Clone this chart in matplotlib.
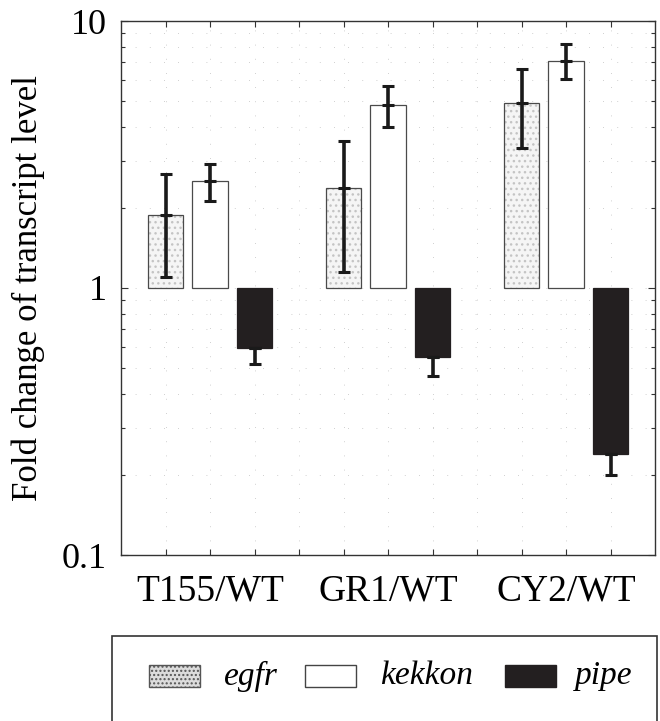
import matplotlib
matplotlib.use("Agg")
import matplotlib.pyplot as plt
import numpy as np
from matplotlib.patches import Rectangle
from matplotlib.ticker import LogLocator, NullFormatter, FixedLocator

plt.rcParams["font.family"] = ["Liberation Serif", "DejaVu Serif"]

groups = ["T155/WT", "GR1/WT", "CY2/WT"]
genes = ["egfr", "kekkon", "pipe"]

# fold change (bar ends) per gene, one value per group
egfr = [1.88, 2.37, 4.93]
kekkon = [2.52, 4.85, 7.08]
pipe = [0.596, 0.552, 0.239]

# error bar ends (low, high)
egfr_lo = [1.10, 1.15, 3.34]
egfr_hi = [2.67, 3.55, 6.61]
kekkon_lo = [2.12, 4.01, 6.06]
kekkon_hi = [2.91, 5.71, 8.20]
pipe_lo = [0.52, 0.468, 0.20]
pipe_hi = [0.596, 0.552, 0.239]

EDGE = "#4a4a4a"
DARK = "#231f20"

fig = plt.figure(figsize=(6.6, 7.21), dpi=100)
ax = fig.add_axes([121 / 660, 1 - 555 / 721, 534 / 660, 534 / 721])

width = 0.8
group_x = np.array([2, 6, 10])
series = [
    (egfr, egfr_lo, egfr_hi, -1),
    (kekkon, kekkon_lo, kekkon_hi, 0),
    (pipe, pipe_lo, pipe_hi, 1),
]

for i, (vals, lo, hi, off) in enumerate(series):
    xs = group_x + off
    vals = np.array(vals)
    bottoms = np.minimum(vals, 1.0)
    heights = np.abs(vals - 1.0)
    if i == 0:
        ax.bar(xs, heights, width, bottom=bottoms, facecolor="#f5f5f5",
               hatch="...", edgecolor="#c4c4c4", linewidth=0, zorder=2)
        ax.bar(xs, heights, width, bottom=bottoms, fill=False,
               edgecolor=EDGE, linewidth=0.9, zorder=3)
    elif i == 1:
        ax.bar(xs, heights, width, bottom=bottoms, facecolor="white",
               edgecolor=EDGE, linewidth=0.9, zorder=3)
    else:
        ax.bar(xs, heights, width, bottom=bottoms, facecolor=DARK,
               edgecolor=DARK, linewidth=0.9, zorder=3)
    yerr = [vals - np.array(lo), np.array(hi) - vals]
    ax.errorbar(xs, vals, yerr=yerr, fmt="_", color="#1a1a1a", ms=9, mew=2.2,
                elinewidth=2.6, capsize=4.5, capthick=2.2, zorder=4)

ax.set_yscale("log")
ax.set_ylim(0.1, 10)
ax.set_xlim(0, 12)

ax.xaxis.set_major_locator(FixedLocator(np.arange(1, 12)))
ax.set_xticklabels(["", "T155/WT", "", "", "", "GR1/WT", "", "", "", "CY2/WT", ""])
ax.yaxis.set_major_locator(FixedLocator([0.1, 1, 10]))
ax.set_yticklabels(["0.1", "1", "10"])
ax.yaxis.set_minor_locator(LogLocator(base=10, subs=np.arange(2, 10)))
ax.yaxis.set_minor_formatter(NullFormatter())

ax.tick_params(axis="both", which="both", direction="in", top=True, right=True,
               color="#333333", width=0.8)
ax.tick_params(axis="x", which="major", length=4, labelsize=27, pad=14)
ax.tick_params(axis="y", which="major", length=5, labelsize=26, pad=10)
ax.tick_params(axis="y", which="minor", length=3)

ax.grid(True, which="both", axis="y", color="#c0c0c0", linewidth=0.6,
        linestyle=(0, (1, 16)), zorder=0)
ax.grid(True, which="major", axis="x", color="#c0c0c0", linewidth=0.6,
        linestyle=(0, (1, 16)), zorder=0)

for s in ax.spines.values():
    s.set_color("#333333")
    s.set_linewidth(1.0)

ax.set_ylabel("Fold change of transcript level", fontsize=25, labelpad=12)

# legend box (open at the bottom, as in the reference)
fig.add_artist(Rectangle((112 / 660, -0.05), (657 - 112) / 660, 0.05 + (721 - 636) / 721,
                         transform=fig.transFigure, fill=False, edgecolor="#333333",
                         linewidth=1.2))
legend_x = [149, 305, 505]
text_x = [224, 380, 575]
styles = [
    dict(facecolor="#dcdcdc", hatch="....", edgecolor="#555555"),
    dict(facecolor="white", edgecolor="#444444"),
    dict(facecolor=DARK, edgecolor=DARK),
]
for gx, tx, name, st in zip(legend_x, text_x, genes, styles):
    fig.add_artist(Rectangle((gx / 660, 1 - 687 / 721), 51 / 660, 22 / 721,
                             transform=fig.transFigure, linewidth=1.0, **st))
    fig.text(tx / 660, 1 - 676 / 721, name, fontsize=24, style="italic",
             ha="left", va="center")

fig.savefig("out.png", dpi=100, facecolor="white")
